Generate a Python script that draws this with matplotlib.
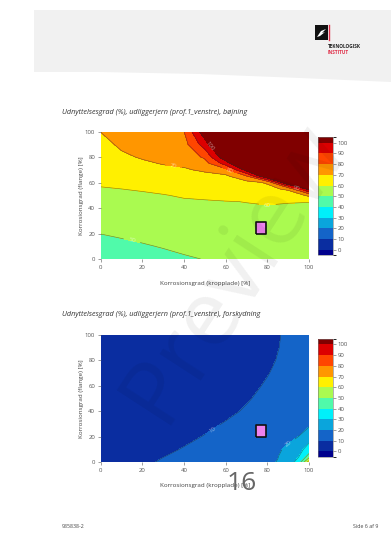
import numpy as np
import matplotlib.pyplot as plt
from matplotlib.colors import ListedColormap, BoundaryNorm
from matplotlib.cm import ScalarMappable
from matplotlib.path import Path
import matplotlib.patches as mpatches

plt.rcParams['font.family'] = ['Open Sans', 'DejaVu Sans']

# ---- data ----
levels = [0, 10, 20, 30, 40, 50, 60, 70, 80, 90, 100]
tick_x = [0, 20, 40, 60, 80, 100]
tick_y = [0, 20, 40, 60, 80, 100]

# bøjning: rows = flange %, cols = kropplade %
x1 = [0, 10, 20, 30, 40, 50, 60, 70, 80, 90, 100]
y1 = [0, 10, 20, 30, 40, 45, 50, 55, 60, 65, 70, 75, 80, 90, 100]
z1 = [
    [44.6, 45.8, 47.0, 48.1, 49.2, 50.2, 52.5, 54.0, 55.0, 55.5, 55.5],
    [47.4, 48.4, 49.4, 50.4, 51.5, 52.3, 54.1, 55.4, 56.2, 56.6, 56.5],
    [50.1, 51.0, 51.8, 52.7, 53.7, 54.3, 55.8, 56.7, 57.4, 57.6, 57.4],
    [52.8, 53.6, 54.3, 55.0, 55.9, 56.4, 57.4, 58.1, 58.5, 58.5, 58.3],
    [55.5, 56.2, 56.7, 57.3, 58.1, 58.5, 59.1, 59.5, 59.4, 59.4, 59.2],
    [56.9, 57.5, 57.9, 58.5, 59.2, 59.5, 59.8, 60.1, 60.7, 60.2, 60.1],
    [58.3, 58.7, 59.1, 59.7, 60.7, 61.2, 62.0, 62.5, 63.2, 63.0, 72.0],
    [59.6, 60.0, 60.6, 61.6, 62.8, 63.5, 63.5, 64.5, 67.0, 72.0, 105],
    [60.8, 61.8, 62.7, 63.8, 65.0, 65.8, 65.7, 66.8, 71.0, 112, 130],
    [62.0, 63.5, 64.8, 66.1, 67.2, 68.1, 68.0, 79.0, 112, 135, 145],
    [63.1, 65.3, 66.8, 68.3, 69.3, 71.0, 76.5, 104, 130, 145, 152],
    [64.3, 67.0, 68.9, 70.4, 71.2, 76.0, 94.5, 118, 140, 150, 157],
    [65.4, 68.8, 70.6, 71.8, 72.9, 81.6, 108, 130, 147, 155, 160],
    [67.8, 71.2, 73.0, 74.7, 76.4, 95.0, 125, 145, 156, 162, 167],
    [70.1, 73.0, 75.5, 77.5, 79.8, 107, 138, 152, 162, 167, 170],
]

# forskydning
x2 = [0, 10, 20, 30, 40, 50, 60, 70, 80, 85, 90, 95, 100]
y2 = [0, 5, 10, 20, 30, 40, 50, 60, 70, 80, 90, 100]
z2 = [
    [4.0, 6.0, 8.5, 11.0, 12.5, 14.0, 15.5, 17.0, 18.8, 20.3, 25.0, 34.0, 66.0],
    [3.5, 5.5, 7.7, 9.7, 11.7, 13.3, 14.9, 16.4, 18.1, 19.7, 23.0, 29.0, 43.0],
    [3.0, 5.0, 7.0, 8.8, 10.4, 12.5, 14.2, 15.8, 17.5, 19.0, 21.5, 26.0, 35.0],
    [2.5, 4.2, 5.9, 7.3, 8.7, 10.3, 12.2, 14.0, 15.8, 16.9, 18.2, 20.1, 25.0],
    [2.2, 3.6, 5.0, 6.2, 7.5, 8.7, 10.4, 12.3, 14.2, 15.2, 16.2, 17.3, 18.5],
    [2.0, 3.2, 4.3, 5.4, 6.5, 7.6, 8.8, 10.6, 12.5, 13.4, 14.3, 15.2, 16.0],
    [1.8, 2.8, 3.8, 4.8, 5.8, 6.8, 7.9, 9.5, 11.5, 12.4, 13.3, 14.1, 14.8],
    [1.7, 2.5, 3.4, 4.3, 5.2, 6.1, 7.1, 8.3, 10.7, 11.6, 12.5, 13.2, 13.9],
    [1.6, 2.3, 3.1, 3.9, 4.7, 5.5, 6.4, 7.4, 9.7, 11.1, 12.0, 12.7, 13.3],
    [1.5, 2.1, 2.8, 3.5, 4.2, 5.0, 5.9, 6.9, 8.8, 10.3, 11.5, 12.3, 12.9],
    [1.4, 2.0, 2.6, 3.2, 3.9, 4.6, 5.5, 6.5, 8.3, 9.8, 11.2, 12.1, 12.7],
    [1.3, 1.9, 2.5, 3.1, 3.7, 4.4, 5.2, 6.2, 8.0, 9.6, 11.0, 12.0, 12.6],
]

# current state marker (kropplade, flange)
pt_x = [77]
pt_y = [24.5]

title1 = "Udnyttelsesgrad (%), udliggerjern (prof.1_venstre), bøjning"
title2 = "Udnyttelsesgrad (%), udliggerjern (prof.1_venstre), forskydning"
xlab = "Korrosionsgrad (kropplade) [%]"
ylab = "Korrosionsgrad (flange) [%]"

# under 0, 0-10 ... 90-100, over 100
colors = ['#00008c', '#0a2da0', '#1464c8', '#0aa5dc', '#00f0fa', '#50faaa',
          '#aafa50', '#fff000', '#ff9600', '#ff4600', '#dc0000', '#800000']

fig = plt.figure(figsize=(3.91, 5.34), dpi=100)

# page decoration in pixel coordinates
bg = fig.add_axes([0, 0, 1, 1], zorder=-5)
bg.set_xlim(0, 391)
bg.set_ylim(534, 0)
bg.axis('off')
bg.add_patch(mpatches.Polygon([(34, 10), (391, 10), (391, 82), (300, 78), (200, 74),
                               (100, 72), (34, 72)], closed=True, fc='#f1f1f1', ec='none'))
bg.add_patch(mpatches.Rectangle((315, 25), 13, 15, fc='#111111', ec='none'))
bg.add_patch(mpatches.Polygon([(317, 37), (321, 31), (326, 29), (322, 33), (325, 32), (320, 36)],
                              closed=True, fc='white', ec='none'))
bg.plot([329, 329], [25, 40], color='#e0304a', lw=1.0)
bg.text(328, 47, "TEKNOLOGISK", fontsize=3.4, fontweight='bold', color='#222222', va='center')
bg.text(328, 52.5, "INSTITUT", fontsize=3.4, fontweight='bold', color='#e0304a', va='center')
bg.text(62, 527, "985838-2", fontsize=3.8, color='#444444', va='center')
bg.text(378, 527, "Side 6 af 9", fontsize=3.8, color='#444444', va='center', ha='right')

cmap = ListedColormap(colors)
norm = BoundaryNorm([-5] + levels + [105], len(colors))
fill_levels = [-1000] + levels + [1000]


def panel(bottom, cb_bottom, xs, ys, zs, title, ty, labels):
    ax = fig.add_axes([0.2575, bottom, 0.5327, 0.2385])
    ax.contourf(xs, ys, zs, levels=fill_levels, colors=colors)
    zmin, zmax = np.min(zs), np.max(zs)
    for lev in levels:
        if not (zmin < lev < zmax):
            continue
        cs = ax.contour(xs, ys, zs, levels=[lev], colors='#2a2a2a', linewidths=0.45, alpha=0.55)
        if lev in labels:
            ax.clabel(cs, manual=[labels[lev]], inline=True, fontsize=4.4,
                      colors='white', fmt='%d')
    ax.plot(pt_x, pt_y, marker=Path([(-0.8, -1), (0.8, -1), (0.8, 1), (-0.8, 1), (-0.8, -1)]),
            ms=9, mfc='violet', mec='#111111', mew=1.2, ls='none')
    ax.set_xlim(0, 100)
    ax.set_ylim(0, 100)
    ax.set_xticks(tick_x)
    ax.set_yticks(tick_y)
    for s in ax.spines.values():
        s.set_visible(False)
    ax.tick_params(labelsize=4.3, colors='#555555', length=2, width=0.4, pad=2)
    cax = fig.add_axes([0.8125, cb_bottom, 0.0384, 0.2202])
    cb = fig.colorbar(ScalarMappable(norm=norm, cmap=cmap), cax=cax, ticks=levels,
                      spacing='proportional')
    cb.outline.set_edgecolor('#777777')
    cb.outline.set_linewidth(0.4)
    cb.ax.tick_params(labelsize=4.3, colors='#555555', length=2, width=0.4, pad=1.5)
    fig.text(62 / 391, 1 - ty / 534, title, fontsize=5.2, style='italic', color='#333333',
             va='center')
    return ax


panel(0.515, 0.5225, x1, y1, z1, title1, 112,
      {50: (15, 14.5), 60: (80, 42.5), 70: (35, 73), 80: (62, 69),
       90: (94, 55), 100: (52, 88)})
panel(0.1343, 0.1448, x2, y2, z2, title2, 315,
      {10: (54, 25), 20: (89, 16)})

for xl_y, cy in [(283, 195.5), (486, 398.3)]:
    fig.text(205 / 391, 1 - xl_y / 534, xlab, fontsize=4.5, color='#444444', ha='center', va='center')
    fig.text(82 / 391, 1 - cy / 534, ylab, fontsize=4.5, color='#444444', ha='center', va='center',
             rotation=90)

fig.text(242 / 391, 1 - 484 / 534, "16", fontsize=19, color='#666666', ha='center', va='center')
fig.text(235 / 391, 1 - 272 / 534, "Preview", fontsize=66, color='black', alpha=0.06,
         rotation=57, ha='center', va='center', zorder=100)

fig.savefig('out.png', dpi=100)
